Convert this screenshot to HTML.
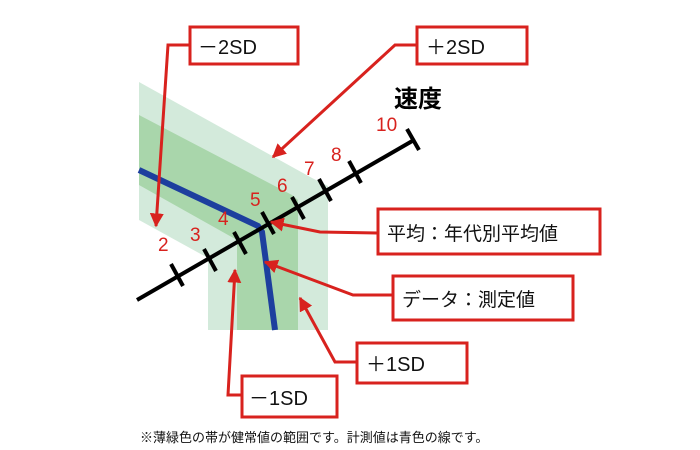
<!DOCTYPE html>
<html><head><meta charset="utf-8"><style>
html,body{margin:0;padding:0;background:#fff;}
svg{display:block;}
.t{font-family:"Liberation Sans","Noto Sans CJK JP",sans-serif;}
</style></head><body>
<svg width="700" height="450" viewBox="0 0 700 450" xmlns="http://www.w3.org/2000/svg">
<defs>
<marker id="ar" viewBox="0 0 10 10" refX="9" refY="5" markerWidth="14" markerHeight="14" markerUnits="userSpaceOnUse" orient="auto">
<path d="M0,0 L10,5 L0,10 z" fill="#d8221e"/></marker>
</defs>
<polygon points="139,82 312,178 328,186 328,330 208,330 208,258 139,220" fill="#d3eadb"/>
<polygon points="139,115 292,195 298,200 298,330 237,330 237,240 139,185" fill="#a9d6ab"/>
<polyline points="139,170 258,226 262,232 266,262 275,330" fill="none" stroke="#1d3f9e" stroke-width="6"/>
<line x1="137" y1="300" x2="414" y2="140" stroke="#000" stroke-width="4"/>
<g stroke="#000" stroke-width="4">
<line x1="171" y1="264" x2="183" y2="286"/>
<line x1="204" y1="249" x2="216" y2="271"/>
<line x1="234" y1="232" x2="246" y2="254"/>
<line x1="262" y1="212" x2="274" y2="234"/>
<line x1="292" y1="197" x2="304" y2="219"/>
<line x1="319" y1="179" x2="331" y2="201"/>
<line x1="349" y1="161" x2="361" y2="183"/>
<line x1="407" y1="129" x2="419" y2="150"/>
</g>
<g class="t" fill="#d8221e" font-size="19">
<text x="158" y="251">2</text>
<text x="190" y="241">3</text>
<text x="218" y="225">4</text>
<text x="250" y="206">5</text>
<text x="277" y="192">6</text>
<text x="304" y="175">7</text>
<text x="331" y="161">8</text>
<text x="376" y="131">10</text>
</g>
<text class="t" x="394" y="107" font-size="24" font-weight="bold" fill="#000">速度</text>
<g fill="none" stroke="#d8221e" stroke-width="3">
<polyline points="190,45 168,45 156,226" marker-end="url(#ar)"/>
<polyline points="417,45 395,45 273,157" marker-end="url(#ar)"/>
<polyline points="377,233 320,232 271,222" marker-end="url(#ar)"/>
<polyline points="393,295 353,295 265,262" marker-end="url(#ar)"/>
<polyline points="357,362 335,362 300,298" marker-end="url(#ar)"/>
<polyline points="242,395 228,395 235,270" marker-end="url(#ar)"/>
</g>
<g fill="#fff" stroke="#d8221e" stroke-width="3">
<rect x="190" y="27" width="108" height="37"/>
<rect x="417" y="27" width="110" height="37"/>
<rect x="378" y="209" width="222" height="45"/>
<rect x="393" y="276" width="180" height="44"/>
<rect x="357" y="343" width="110" height="40"/>
<rect x="242" y="376" width="95" height="41"/>
</g>
<g class="t" fill="#111" font-size="20">
<text x="198" y="54">－2SD</text>
<text x="426" y="54">＋2SD</text>
<text x="387" y="240" font-size="19">平均：年代別平均値</text>
<text x="402" y="306" font-size="19">データ：測定値</text>
<text x="366" y="371">＋1SD</text>
<text x="249" y="405">－1SD</text>
</g>
<text class="t" x="140" y="442" font-size="13" fill="#111">※薄緑色の帯が健常値の範囲です。計測値は青色の線です。</text>
</svg>
</body></html>
